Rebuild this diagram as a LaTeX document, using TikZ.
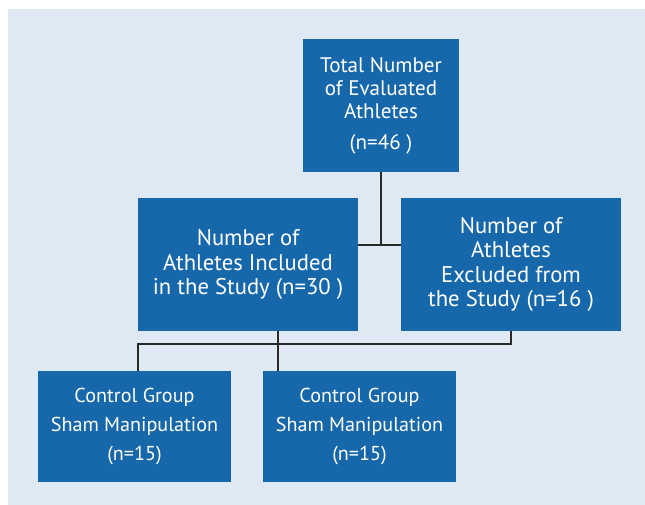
\documentclass[tikz,border=0pt]{standalone}
\usepackage{fontspec}
\setmainfont{PT Sans}
\definecolor{boxblue}{RGB}{23,103,171}
\definecolor{bgblue}{RGB}{223,233,244}
\definecolor{linegray}{RGB}{40,40,40}

\begin{document}
\begin{tikzpicture}[x=0.75pt, y=-0.75pt, box/.style={rectangle, fill=boxblue, text=white, align=center, inner sep=0pt}, topbox/.style={box, minimum width=117pt, minimum height=99.75pt, font=\fontsize{15.8}{17.25}\selectfont}, big/.style={box, minimum width=165pt, minimum height=99.75pt, font=\fontsize{17}{18.4}\selectfont}, small/.style={box, minimum width=144.75pt, minimum height=83.25pt, font=\fontsize{15.1}{22}\selectfont}, l/.style={draw=linegray, line width=1.1pt}]
            \useasboundingbox (0,0) rectangle (645,505);
            \fill[bgblue] (8,9) rectangle (645,505);
            % nodes
            \node[topbox] (total) at (381,105.5) {Total Number\\of Evaluated\\Athletes\\[6pt](n=46 )};
            \node[big] (incl) at (248,264.5) {Number of\\Athletes Included\\in the Study (n=30 )};
            \node[big] (excl) at (511,264.5) {Number of\\Athletes\\Excluded from\\the Study (n=16 )};
            \node[small] (ctrl1) at (134.5,426.5) {Control Group\\Sham Manipulation\\(n=15)};
            \node[small] (ctrl2) at (359.5,426.5) {Control Group\\Sham Manipulation\\(n=15)};
            \coordinate (j1) at (381,245);
            \coordinate (j2) at (138,344);
            \coordinate (j3) at (278,344);
            % edges
            \draw [l] (total.south) -- (j1);
            \draw [l] (incl.east |- j1) -- (excl.west |- j1);
            \draw [l] (ctrl1.north -| j2) -- (j2) -| (excl.south);
            \draw [l] (incl.south -| j3) -- (ctrl2.north -| j3);
        \end{tikzpicture}
\end{document}
